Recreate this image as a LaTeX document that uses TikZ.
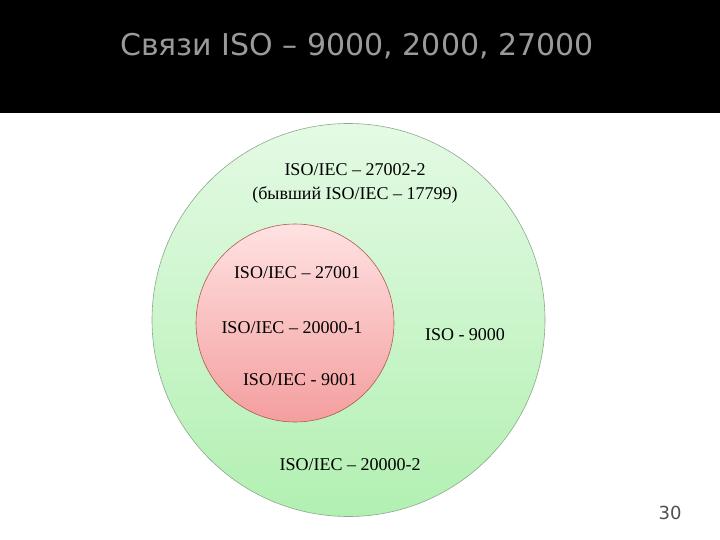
\documentclass[tikz,border=0pt]{standalone}
\usepackage{fontspec}
\setmainfont{Liberation Serif}
\newfontfamily\headfont{DejaVu Sans}
\usetikzlibrary{positioning}
\definecolor{headgray}{HTML}{9A9A9A}
\definecolor{pagegray}{HTML}{505050}
\definecolor{greentop}{HTML}{E4FAE4}
\definecolor{greenbot}{HTML}{B2F0B2}
\definecolor{greenline}{HTML}{8CA88C}
\definecolor{redtop}{HTML}{FFE2E2}
\definecolor{redbot}{HTML}{F49E9E}
\definecolor{redline}{HTML}{B05A50}

\begin{document}
\begin{tikzpicture}[x=1pt,y=-1pt,
  ring/.style={circle,draw,inner sep=0pt,line width=0.6pt},
  stdlabel/.style={font=\fontsize{18}{24}\selectfont,inner sep=0pt,align=center}]

        \useasboundingbox (0,0) rectangle (720,540);
        \fill[black] (0,0) rectangle (720,113);
        \node[font=\headfont\fontsize{30}{34}\selectfont,text=headgray,inner sep=0pt] (title) at (357,46) {Связи ISO – 9000, 2000, 27000};

        \node (outer) [ring,minimum size=393pt,draw=greenline,top color=greentop,bottom color=greenbot] at (348.5,320) {};
        \node (inner) [ring,minimum size=198pt,draw=redline,top color=redtop,bottom color=redbot] at (295,323) {};

        \node (iso27002) [stdlabel] at (355,183) {ISO/IEC – 27002-2\\(бывший ISO/IEC – 17799)};
        \node (iso27001) [stdlabel] at (297,273) {ISO/IEC – 27001};
        \node (iso20001) [stdlabel] at (292,328) {ISO/IEC – 20000-1};
        \node (iec9001) [stdlabel] at (300,380) {ISO/IEC - 9001};
        \node (iso9000) [stdlabel] at (465,335) {ISO - 9000};
        \node (iso20002) [stdlabel] at (350,465) {ISO/IEC – 20000-2};

        \node[font=\headfont\fontsize{18}{20}\selectfont,text=pagegray,inner sep=0pt] (page) at (670,513) {30};
      \end{tikzpicture}
\end{document}
